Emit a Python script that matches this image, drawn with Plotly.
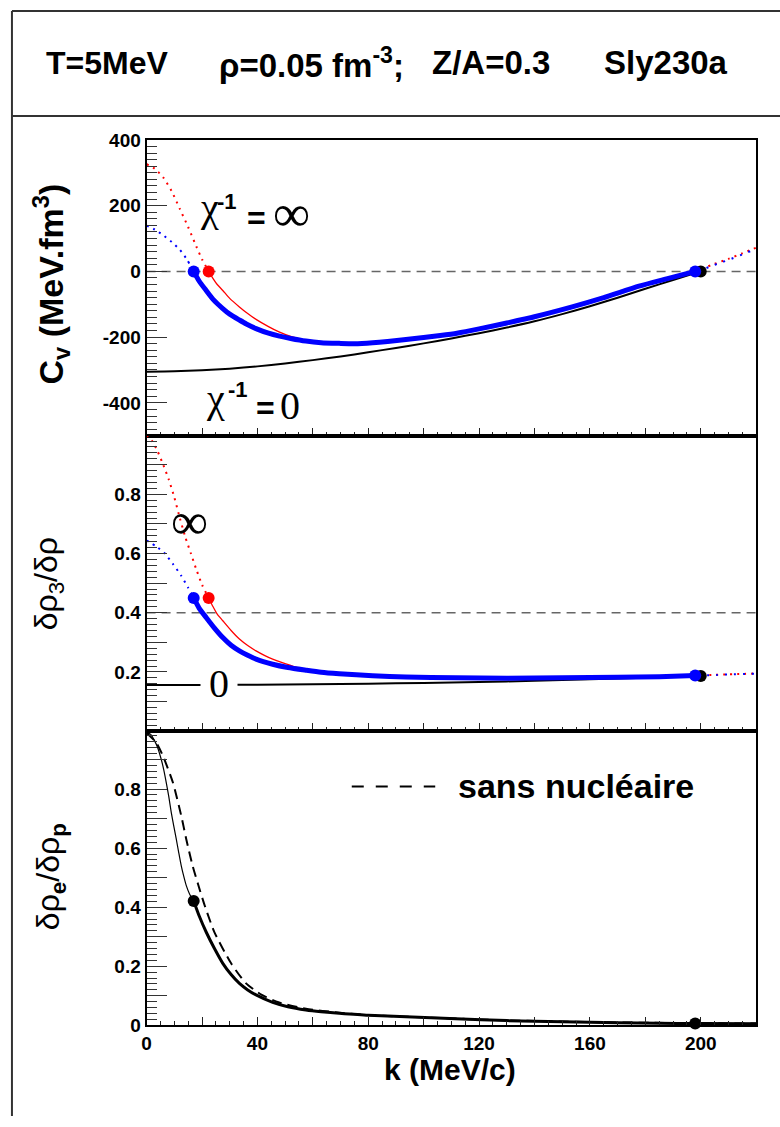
import plotly.graph_objects as go
from plotly.subplots import make_subplots

# ---- data ----
# top panel: C_v (MeV.fm^3) vs k (MeV/c)
k_cv_black = [0, 10, 20, 30, 40, 50, 60, 70, 80, 90, 100, 110, 120, 130, 140, 150, 160, 170, 180, 190, 200]
cv_black = [-305, -304, -301, -296, -289, -280, -270, -259, -246, -233, -219, -204, -188, -171, -152, -130, -106, -80, -53, -26, 0]

k_cv_blue = [17, 19, 21.5, 24, 27.5, 30, 33.5, 36, 39.5, 44, 48, 52, 57.5, 63, 69.5, 75, 81.6, 87, 93.6, 100,
             106, 112, 120, 130, 140, 153.6, 165, 177.7, 188, 198]
cv_blue = [0, -30, -58, -85, -113, -130, -148, -160, -174, -188, -197, -204, -212, -217, -219, -220, -217, -213, -207, -201,
           -195, -188, -175, -157, -138, -108, -80, -45, -22, 0]

k_cv_red = [22.4, 24, 25.5, 27.5, 30, 33.5, 36, 39.5, 44, 48, 52, 57.5, 63, 69.5, 75, 81.6, 87, 93.6, 100,
            106, 112, 120, 130, 140, 153.6, 165, 177.7, 188, 198]
cv_red = [0, -22, -40, -58, -82, -108, -125, -146, -168, -185, -198, -210, -216, -219, -220, -217, -213, -207, -201,
          -195, -188, -175, -157, -138, -108, -80, -45, -22, 0]

k_cv_red_dot = [0, 3, 6, 9, 12, 15, 18, 20, 22.4]
cv_red_dot = [326, 312, 286, 245, 190, 135, 75, 37, 0]
k_cv_blue_dot = [0, 3, 6, 9, 12, 14.5, 17]
cv_blue_dot = [139, 127, 110, 90, 66, 37, 0]
k_ext = [198, 205, 210, 215, 220]
cv_ext = [0, 23, 38, 55, 72]

# middle panel: d rho3 / d rho
k_r3_black = [0, 20, 40, 60, 80, 100, 120, 140, 160, 180, 200]
r3_black = [0.156, 0.156, 0.157, 0.158, 0.160, 0.163, 0.166, 0.170, 0.175, 0.180, 0.186]
k_r3_blue = [17, 19, 21.5, 24.5, 27.5, 30.5, 33.5, 36.5, 39.5, 45.5, 51, 57.5, 63, 69.5, 81.6, 93.6, 111.6, 130,
             150, 170, 185, 198]
r3_blue = [0.45, 0.415, 0.384, 0.348, 0.316, 0.290, 0.271, 0.256, 0.243, 0.226, 0.215, 0.206, 0.199, 0.194, 0.187,
           0.183, 0.180, 0.179, 0.180, 0.182, 0.184, 0.188]
k_r3_red = [22.4, 24, 25.5, 27.5, 30.5, 33.5, 36.5, 39.5, 42.5, 45.5, 50, 55, 60, 69.5, 81.6, 93.6, 111.6, 130,
            150, 170, 185, 198]
r3_red = [0.45, 0.42, 0.395, 0.373, 0.34, 0.311, 0.289, 0.271, 0.256, 0.243, 0.228, 0.213, 0.203, 0.194, 0.187,
          0.183, 0.180, 0.179, 0.180, 0.182, 0.184, 0.188]
k_r3_red_dot = [0, 2, 4, 6, 8, 10, 12, 14, 16, 18, 20, 22.4]
r3_red_dot = [1.0, 0.98, 0.945, 0.90, 0.85, 0.79, 0.72, 0.655, 0.60, 0.545, 0.495, 0.45]
k_r3_blue_dot = [0, 3.5, 6.5, 9.5, 12.5, 14.9, 17]
r3_blue_dot = [0.644, 0.624, 0.601, 0.565, 0.525, 0.486, 0.45]
r3_ext = [0.188, 0.190, 0.192, 0.193, 0.195]

# bottom panel: d rho_e / d rho_p
k_e_thin = [0, 1.5, 2.9, 4, 5.3, 6.2, 7.1, 8, 8.9, 9.8, 10.7, 11.6, 12.5, 13.4, 14.3, 15.5, 17]
e_thin = [0.99, 0.985, 0.963, 0.94, 0.90, 0.865, 0.822, 0.775, 0.721, 0.675, 0.631, 0.585, 0.541, 0.505, 0.474, 0.445, 0.421]
k_e_thick = [17, 19, 21.5, 24.5, 27.5, 30.5, 33.5, 36.5, 39.5, 45.5, 51, 57.5, 63, 69.5, 80, 93.6, 111.6, 130, 150,
             170, 185, 198, 220]
e_thick = [0.421, 0.37, 0.316, 0.26, 0.210, 0.172, 0.142, 0.12, 0.103, 0.078, 0.063, 0.052, 0.046, 0.041, 0.034,
           0.029, 0.022, 0.016, 0.012, 0.009, 0.007, 0.006, 0.005]
k_e_free = [0, 3.5, 5.9, 9.5, 12.5, 14.3, 16.6, 18.5, 21, 24.5, 30.5, 35.9, 41.6, 47.6, 57.5, 69.5, 80, 100, 130,
            160, 190, 220]
e_free = [0.99, 0.957, 0.912, 0.822, 0.71, 0.631, 0.541, 0.48, 0.405, 0.315, 0.21, 0.142, 0.103, 0.078, 0.056,
          0.043, 0.035, 0.027, 0.017, 0.011, 0.008, 0.006]

k_dots_left = [17, 22.4]
k_dots_right = [198, 200]
cv_dots_zero = [0, 0]
r3_dots = [0.45, 0.188, 0.186]
e_dots = [0.421, 0.006]

# tick labels of the C_v axis (ROOT prints a plain hyphen) and its unlabelled long ticks
cv_labels = [-400, -200, 0, 200, 400]
cv_label_text = ["-400", "-200", "0", "200", "400"]
cv_long_unlabelled = [-500, -300, -100, 100, 300]

W, H = 780, 1127
SANS = "Liberation Sans, Arial, sans-serif"
SERIF = "Liberation Serif, Times New Roman, serif"
BLUE, RED = "#0000ff", "#ff0000"

# the photographed page comes out a little squeezed/offset; map reference pixels onto the figure
OX, OY, SY = 4, 9, 0.982


def px(x):
    return (x - OX) / W


def py(y):
    return 1 - (y - OY) / SY / H


fig = make_subplots(rows=3, cols=1, shared_xaxes=True, vertical_spacing=0)


def line(x, y, row, color, width, dash="solid"):
    fig.add_trace(go.Scatter(x=x, y=y, mode="lines",
                             line=dict(color=color, width=width, dash=dash, shape="spline", smoothing=0.6),
                             showlegend=False, hoverinfo="skip"), row=row, col=1)


def dots(x, y, row, color):
    fig.add_trace(go.Scatter(x=x, y=y, mode="markers", marker=dict(color=color, size=12),
                             showlegend=False, hoverinfo="skip", cliponaxis=False), row=row, col=1)


DOT = "2px,5px"

# top panel
line(k_cv_black, cv_black, 1, "black", 2)
line(k_cv_red_dot, cv_red_dot, 1, RED, 2, DOT)
line(k_cv_blue_dot, cv_blue_dot, 1, BLUE, 2, DOT)
line(k_ext, cv_ext, 1, RED, 2, DOT)
line([k + 1 for k in k_ext], cv_ext, 1, BLUE, 2, "2px,7px")
line(k_cv_red, cv_red, 1, RED, 1.3)
line(k_cv_blue, cv_blue, 1, BLUE, 5)
dots([k_dots_right[1]], [0], 1, "black")
dots([k_dots_left[1]], [0], 1, RED)
dots([k_dots_left[0], k_dots_right[0]], cv_dots_zero, 1, BLUE)

# middle panel
line(k_r3_black, r3_black, 2, "black", 2)
line(k_r3_red_dot, r3_red_dot, 2, RED, 2, DOT)
line(k_r3_blue_dot, r3_blue_dot, 2, BLUE, 2, DOT)
line(k_ext, r3_ext, 2, RED, 2, DOT)
line([k + 1 for k in k_ext], r3_ext, 2, BLUE, 2, "2px,7px")
line(k_r3_red, r3_red, 2, RED, 1.3)
line(k_r3_blue, r3_blue, 2, BLUE, 5)
dots([k_dots_right[1]], [r3_dots[2]], 2, "black")
dots([k_dots_left[1]], [r3_dots[0]], 2, RED)
dots([k_dots_left[0], k_dots_right[0]], [r3_dots[0], r3_dots[1]], 2, BLUE)

# bottom panel
line(k_e_free, e_free, 3, "black", 2, "10px,6px")
line(k_e_thin, e_thin, 3, "black", 1.2)
line(k_e_thick, e_thick, 3, "black", 3)
dots([k_dots_left[0], k_dots_right[0]], e_dots, 3, "black")

# axes
xdom = [px(146.5), px(760)]
ydoms = [[py(435), py(139)], [py(730), py(435)], [py(1025), py(730)]]
tickfont = dict(family=SANS, size=19, color="black", weight="bold")
for i in range(3):
    fig.update_xaxes(row=i + 1, col=1, domain=xdom, range=[0, 220], showline=True, mirror=True,
                     linecolor="black", linewidth=2, ticks="inside", ticklen=8, tickwidth=1.2, tickcolor="#222",
                     tickmode="linear", tick0=0, dtick=20, ticklabelstep=2, showticklabels=(i == 2),
                     tickfont=tickfont, showgrid=False, zeroline=False,
                     minor=dict(dtick=5, tick0=0, ticks="inside", ticklen=4, tickcolor="#222", showgrid=False))

yopts = dict(showline=True, mirror=True, linecolor="black", linewidth=2, ticks="inside", ticklen=20,
             tickwidth=1.2, tickcolor="#333", tickfont=tickfont, showgrid=False, zeroline=False)
fig.update_yaxes(row=1, col=1, domain=ydoms[0], range=[-500, 400], tickmode="array", tickvals=cv_labels,
                 ticktext=cv_label_text,
                 minor=dict(dtick=20, tick0=0, ticks="inside", ticklen=10, tickcolor="#333", showgrid=False), **yopts)
fig.update_yaxes(row=2, col=1, domain=ydoms[1], range=[0.002, 0.998], tickmode="linear", tick0=0, dtick=0.1,
                 ticklabelstep=2,
                 minor=dict(dtick=0.02, tick0=0, ticks="inside", ticklen=10, tickcolor="#333", showgrid=False), **yopts)
fig.update_yaxes(row=3, col=1, domain=ydoms[2], range=[0, 0.998], tickmode="linear", tick0=0, dtick=0.1,
                 ticklabelstep=2,
                 minor=dict(dtick=0.02, tick0=0, ticks="inside", ticklen=10, tickcolor="#333", showgrid=False), **yopts)
# long unlabelled ticks of the C_v axis
fig.update_layout(yaxis4=dict(overlaying="y", anchor="x", side="left", domain=ydoms[0], range=[-500, 400],
                              tickmode="array", tickvals=cv_long_unlabelled, ticks="inside", ticklen=20,
                              tickwidth=1.2, tickcolor="#333", showticklabels=False, showline=False,
                              showgrid=False, zeroline=False))

# reference dashed lines
fig.add_shape(type="line", xref="x domain", yref="y", x0=0, x1=1, y0=0, y1=0,
              line=dict(color="#666", width=1.5, dash="9px,6px"), layer="below")
fig.add_shape(type="line", xref="x2 domain", yref="y2", x0=0, x1=1, y0=0.4, y1=0.4,
              line=dict(color="#666", width=1.5, dash="9px,6px"), layer="below")

# outer frame (title box + left border)
frame = dict(color="#333", width=2)
fig.add_shape(type="line", xref="paper", yref="paper", x0=px(11), x1=px(11), y0=py(10), y1=0, line=frame)
fig.add_shape(type="line", xref="paper", yref="paper", x0=px(11), x1=1, y0=py(10), y1=py(10), line=frame)
fig.add_shape(type="line", xref="paper", yref="paper", x0=px(11), x1=1, y0=py(115), y1=py(115), line=frame)

# legend sample for the dashed curve
fig.add_shape(type="line", xref="paper", yref="paper", x0=px(353), x1=px(437), y0=py(786), y1=py(786),
              line=dict(color="black", width=2, dash="12px,12px"))


def note(text, x, y, size, family=SANS, bold=False, xanchor="center", angle=0, **kw):
    fig.add_annotation(text=text, x=px(x), y=py(y), xref="paper", yref="paper", showarrow=False,
                       xanchor=xanchor, yanchor="middle", textangle=angle,
                       font=dict(family=family, size=size, color="black", weight="bold" if bold else "normal"), **kw)


# title row
note("T=5MeV", 43, 62, 32, bold=True, xanchor="left")
note("ρ=0.05 fm<sup>-3</sup>;", 217, 62, 33, bold=True, xanchor="left")
note("Z/A=0.3", 432, 62, 33, bold=True, xanchor="left")
note("Sly230a", 605, 62, 33, bold=True, xanchor="left")

# axis titles
note("C<sub>v</sub> (MeV.fm<sup>3</sup>)", 50, 283, 34, bold=True, angle=-90)
note("δρ<sub>3</sub>/δρ", 48, 583, 32, angle=-90)
note("δρ<sub><b>e</b></sub>/δρ<sub><b>p</b></sub>", 50, 876, 32, angle=-90)
note("k (MeV/c)", 452, 1069, 30, bold=True)

# curve labels
note("χ", 210, 207, 40, family=SERIF)
note("-1", 227, 201, 22, bold=True)
note("=", 257, 217, 32, bold=True)
note("∞", 292, 213, 52, family=SERIF)
note("χ", 216, 398, 40, family=SERIF)
note("-1", 238, 389, 22, bold=True)
note("=", 266, 407, 32, bold=True)
note("0", 291, 405, 40, family=SERIF)
note("∞", 190, 521, 52, family=SERIF)
note("0", 219, 683, 40, family=SERIF, bgcolor="white", borderpad=0, width=36)
note("sans nucléaire", 458, 786, 34, bold=True, xanchor="left")

fig.update_layout(width=W, height=H, margin=dict(l=0, r=0, t=0, b=0), paper_bgcolor="white",
                  plot_bgcolor="white", showlegend=False)

# page body margin would push the figure off the picture's pixel grid
fig.write_html("out.html", config={"displayModeBar": False},
               post_script="document.body.style.margin='0';")
